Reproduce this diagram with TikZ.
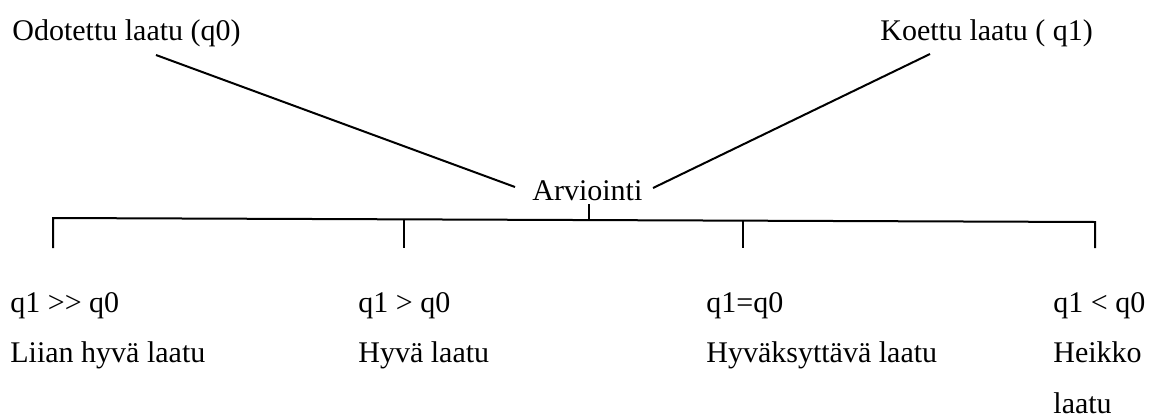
\documentclass[tikz,border=0pt]{standalone}
\usepackage{fontspec}
\setmainfont{Liberation Serif}
\begin{document}
\begin{tikzpicture}[
  x=0.5pt,
  y=-0.5pt,
  every node/.style={font=\fontsize{15pt}{25.5pt}\selectfont, black,
                     inner sep=0pt, anchor=base west},
  linkline/.style={black, line width=1pt},
  barline/.style={black, line width=1pt},
  tickline/.style={black, line width=1pt}
]
  \useasboundingbox (0,0) rectangle (1166,418);

  % ---- top labels ----
  \node (expected) at (12,40)  {Odotettu laatu (q0)};
  \node (tested)   at (880,40) {Koettu laatu ( q1)};
  \node (eval)     at (532,200) {Arviointi};

  % ---- lines into the evaluation ----
  \coordinate (expected-foot) at (156,55);
  \coordinate (tested-foot)   at (930,54);
  \coordinate (eval-left)     at (515,187);
  \coordinate (eval-right)    at (653,188);
  \draw[linkline] (expected-foot) -- (eval-left);
  \draw[linkline] (tested-foot) -- (eval-right);

  % ---- bar with its end ticks ----
  \coordinate (bar-left)  at (53,218);
  \coordinate (bar-right) at (1095,222);
  \draw[barline] (53,248) -- (bar-left) -- (bar-right) -- (1095,248);
  \coordinate (eval-tick) at (589,220.1);
  \draw[tickline] (eval-tick) -- (589,204);
  \foreach \x/\y in {404/219.3, 743/220.6}
    \draw[tickline] (\x,\y) -- (\x,248);

  % ---- outcomes ----
  \node (rel-a)  at (10,312)   {q1 >{}> q0};
  \node (desc-a) at (10,362)   {Liian hyvä laatu};
  \node (rel-b)  at (358,312)  {q1 > q0};
  \node (desc-b) at (358,362)  {Hyvä laatu};
  \node (rel-c)  at (706,312)  {q1=q0};
  \node (desc-c) at (706,362)  {Hyväksyttävä laatu};
  \node (rel-d)  at (1053,312) {q1 < q0};
  \node (desc-d) at (1053,362) {Heikko};
  \node (desc-e) at (1053,413) {laatu};
\end{tikzpicture}
\end{document}
